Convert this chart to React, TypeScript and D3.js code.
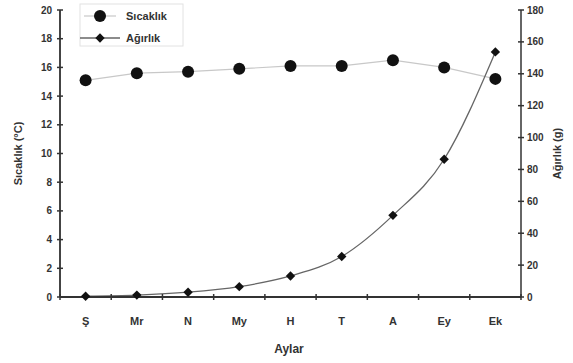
import React from "react";
import * as d3 from "d3";

const months = ["Ş", "Mr", "N", "My", "H", "T", "A", "Ey", "Ek"];
const temperature = [15.1, 15.6, 15.7, 15.9, 16.1, 16.1, 16.5, 16.0, 15.2];
const weight = [0.5, 1.2, 3.0, 6.5, 13.2, 25.4, 51.2, 86.4, 153.7];
const leftTicks = [0, 2, 4, 6, 8, 10, 12, 14, 16, 18, 20];
const rightTicks = [0, 20, 40, 60, 80, 100, 120, 140, 160, 180];

const W = 573;
const H = 363;
const m = { left: 60, right: 52, top: 10, bottom: 66 };
const font = "Liberation Sans, Arial, sans-serif";

export default function App() {
  const x = d3.scaleBand<string>().domain(months).range([m.left, W - m.right]);
  const yL = d3.scaleLinear().domain([0, 20]).range([H - m.bottom, m.top]);
  const yR = d3.scaleLinear().domain([0, 180]).range([H - m.bottom, m.top]);
  const cx = (d: string) => (x(d) ?? 0) + x.bandwidth() / 2;

  const tempLine = d3
    .line<number>()
    .x((_, i) => cx(months[i]))
    .y((d) => yL(d));
  const weightLine = d3
    .line<number>()
    .x((_, i) => cx(months[i]))
    .y((d) => yR(d))
    .curve(d3.curveMonotoneX);

  // square turned 45 degrees, like the original markers
  const diamond = d3.symbol().type(d3.symbolSquare).size(44)();
  const base = H - m.bottom;
  const bounds = months.map((d) => x(d) ?? 0).concat([W - m.right]);

  return (
    <svg width={W} height={H} style={{ position: "absolute", left: 0, top: 0, background: "#fff" }} fontFamily={font}>
      {/* series lines */}
      <path d={tempLine(temperature) ?? ""} fill="none" stroke="#c8c8c8" strokeWidth={1.2} />
      <path d={weightLine(weight) ?? ""} fill="none" stroke="#666" strokeWidth={1.3} />

      {/* axes */}
      <line x1={m.left} x2={m.left} y1={m.top} y2={base} stroke="#444" strokeWidth={2} />
      <line x1={W - m.right} x2={W - m.right} y1={m.top} y2={base} stroke="#666" strokeWidth={2} />
      <line x1={m.left} x2={W - m.right} y1={base} y2={base} stroke="#333" strokeWidth={2} />

      {leftTicks.map((t) => (
        <g key={"l" + t}>
          <line x1={m.left - 3} x2={m.left + 3} y1={yL(t)} y2={yL(t)} stroke="#333" strokeWidth={1.5} />
          <text x={m.left - 8} y={yL(t)} dy="0.35em" textAnchor="end" fontSize={10} fontWeight="bold" fill="#333">
            {t}
          </text>
        </g>
      ))}
      {rightTicks.map((t) => (
        <g key={"r" + t}>
          <line x1={W - m.right - 3} x2={W - m.right + 3} y1={yR(t)} y2={yR(t)} stroke="#333" strokeWidth={1.5} />
          <text x={W - m.right + 6} y={yR(t)} dy="0.35em" fontSize={10} fontWeight="bold" fill="#333">
            {t}
          </text>
        </g>
      ))}
      {bounds.map((b, i) => (
        <line key={"b" + i} x1={b} x2={b} y1={base - 3} y2={base + 3} stroke="#333" strokeWidth={1.5} />
      ))}
      {months.map((d) => (
        <text key={"x" + d} x={cx(d)} y={base + 28} textAnchor="middle" fontSize={11} fontWeight="bold" fill="#333">
          {d}
        </text>
      ))}

      {/* axis titles */}
      <text x={289} y={353} textAnchor="middle" fontSize={12} fontWeight="bold" fill="#333">
        Aylar
      </text>
      <text
        transform={`translate(22,${(m.top + base) / 2}) rotate(-90)`}
        textAnchor="middle"
        fontSize={11}
        fontWeight="bold"
        fill="#333"
      >
        Sıcaklık (°C)
      </text>
      <text
        transform={`translate(561,${(m.top + base) / 2}) rotate(-90)`}
        textAnchor="middle"
        fontSize={11}
        fontWeight="bold"
        fill="#333"
      >
        Ağırlık (g)
      </text>

      {/* markers */}
      {temperature.map((v, i) => (
        <circle key={"t" + i} cx={cx(months[i])} cy={yL(v)} r={6} fill="#111" />
      ))}
      {weight.map((v, i) => (
        <path
          key={"w" + i}
          d={diamond ?? ""}
          transform={`translate(${cx(months[i])},${yR(v)}) rotate(45)`}
          fill="#111"
        />
      ))}

      {/* legend */}
      <rect x={80} y={4} width={103} height={42} fill="#fff" stroke="#e2e2e2" strokeWidth={1} />
      <line x1={84} x2={116} y1={16} y2={16} stroke="#c8c8c8" strokeWidth={1.2} />
      <circle cx={100} cy={16} r={6} fill="#111" />
      <text x={126} y={16} dy="0.35em" fontSize={11} fontWeight="bold" fill="#333">
        Sıcaklık
      </text>
      <line x1={80} x2={120} y1={38} y2={38} stroke="#666" strokeWidth={1.3} />
      <path d={diamond ?? ""} transform="translate(100,38) rotate(45)" fill="#111" />
      <text x={126} y={38} dy="0.35em" fontSize={11} fontWeight="bold" fill="#333">
        Ağırlık
      </text>
    </svg>
  );
}
